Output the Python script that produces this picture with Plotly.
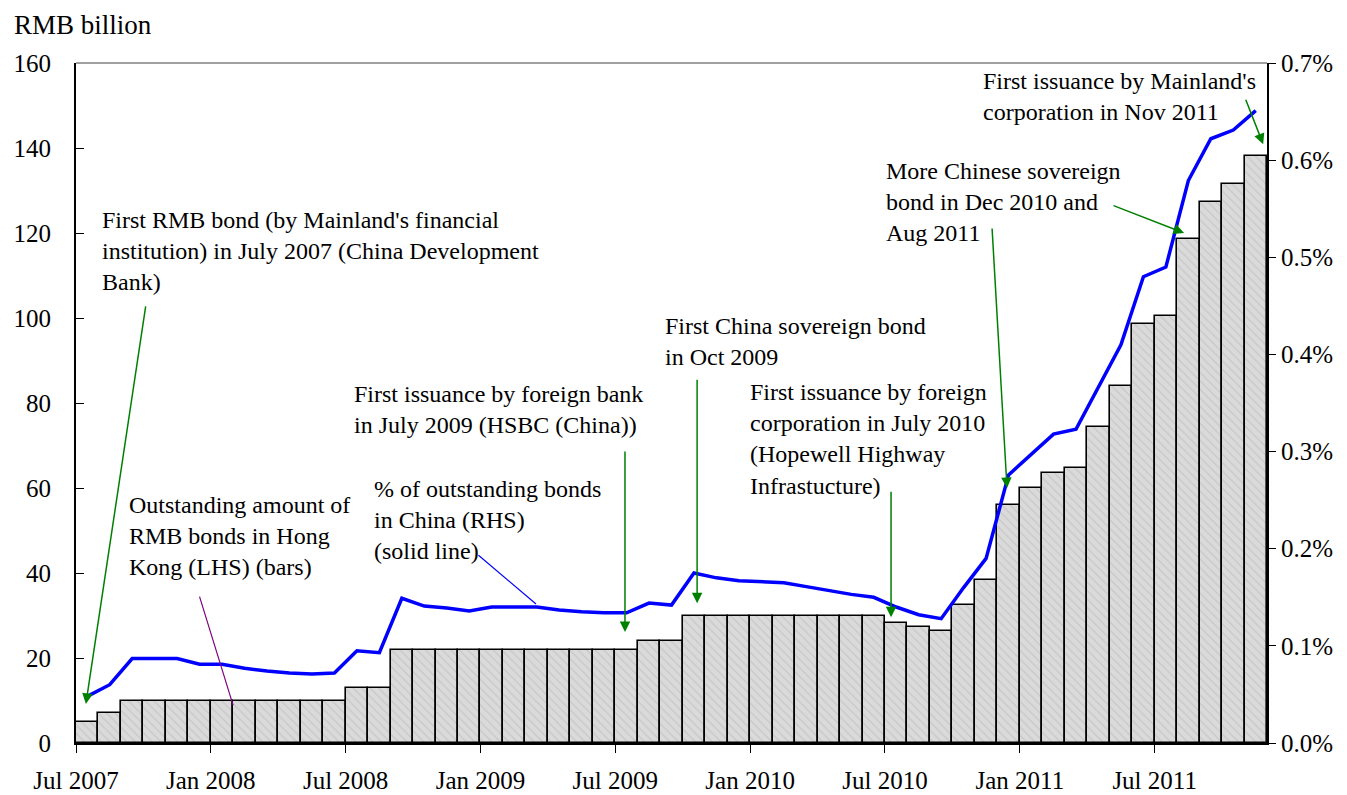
import plotly.graph_objects as go
import pandas as pd

# ---- data ----
months = [d.strftime("%b %Y") for d in pd.date_range("2007-07-01", "2011-11-01", freq="MS")]

outstanding_rmb_bn = [
    5, 7, 10, 10, 10, 10, 10, 10, 10, 10, 10, 10,          # Jul07-Jun08
    13, 13, 22, 22, 22, 22, 22, 22, 22, 22, 22, 22,        # Jul08-Jun09
    22, 24, 24, 30, 30, 30, 30, 30, 30, 30, 30, 30,        # Jul09-Jun10
    28.2, 27.2, 26.4, 32.4, 38.3, 55.9, 60.0, 63.6, 64.8, 74.4, 84.0, 98.7,  # Jul10-Jun11
    100.5, 118.5, 127.2, 131.5, 138.1                      # Jul11-Nov11
]

pct_of_china_bonds = [
    0.048, 0.060, 0.087, 0.087, 0.087, 0.081, 0.081, 0.077, 0.074, 0.072, 0.071, 0.072,
    0.095, 0.093, 0.149, 0.141, 0.139, 0.136, 0.140, 0.140, 0.140, 0.137, 0.135, 0.134,
    0.134, 0.144, 0.142, 0.175, 0.170, 0.167, 0.166, 0.165, 0.161, 0.157, 0.153, 0.150,
    0.140, 0.132, 0.128, 0.160, 0.190, 0.276, 0.297, 0.318, 0.323, 0.367, 0.410, 0.480,
    0.490, 0.579, 0.622, 0.631, 0.651
]

tick_labels = ["Jul 2007", "Jan 2008", "Jul 2008", "Jan 2009", "Jul 2009",
               "Jan 2010", "Jul 2010", "Jan 2011", "Jul 2011"]

left_ticks = [0, 20, 40, 60, 80, 100, 120, 140, 160]
right_ticks = [0.0, 0.1, 0.2, 0.3, 0.4, 0.5, 0.6, 0.7]
right_tick_text = [f"{v:.1f}%" for v in right_ticks]

FONT = '"Liberation Serif", "Times New Roman", "DejaVu Serif", serif'
GREEN = "#008000"

x_centers = [i + 0.5 for i in range(len(months))]
tick_vals = [months.index(t) for t in tick_labels]

fig = go.Figure()
fig.add_trace(go.Bar(
    x=x_centers, y=outstanding_rmb_bn, width=1.0,
    marker=dict(color="#d9d9d9",
                line=dict(color="black", width=1.6),
                pattern=dict(shape="\\", fgcolor="#b4b4b4", bgcolor="#dadada",
                             size=6, solidity=0.2)),
    showlegend=False, yaxis="y"))
fig.add_trace(go.Scatter(
    x=x_centers, y=pct_of_china_bonds, mode="lines",
    line=dict(color="#0000ff", width=3.5),
    showlegend=False, yaxis="y2"))

# page body has an 8px margin: figure drawn from (8,8)
OFF = 8
W, H = 1347 - OFF, 795 - OFF
# plot area in page pixels
L, R, T, B = 76, 1267, 63, 743
def px2paper(px, py):
    return (px - L) / (R - L), (B - py) / (B - T)

annotations = []

def text_ann(text, left_px, center_py, size=24):
    x, y = px2paper(left_px, center_py)
    annotations.append(dict(text=text, xref="paper", yref="paper", x=x, y=y,
                            xanchor="left", yanchor="middle", align="left",
                            showarrow=False, font=dict(family=FONT, size=size, color="black")))

def arrow(tip_month, tip_val, ax, ay, color=GREEN, head=2, width=1.5):
    annotations.append(dict(text="", xref="x", yref="y", x=tip_month, y=tip_val,
                            ax=ax, ay=ay, axref="pixel", ayref="pixel",
                            showarrow=True, arrowhead=head, arrowsize=1.4,
                            arrowwidth=width, arrowcolor=color, standoff=0))

text_ann("First RMB bond (by Mainland's financial<br>institution) in July 2007 (China Development<br>Bank)", 100, 251)
text_ann("Outstanding amount of<br>RMB bonds in Hong<br>Kong (LHS) (bars)", 127, 536)
text_ann("% of outstanding bonds<br>in China (RHS)<br>(solid line)", 372, 520)
text_ann("First issuance by foreign bank<br>in July 2009 (HSBC (China))", 352, 409)
text_ann("First China sovereign bond<br>in Oct 2009", 663, 341)
text_ann("First issuance by foreign<br>corporation in July 2010<br>(Hopewell Highway<br>Infrastucture)", 748, 439)
text_ann("More Chinese sovereign<br>bond in Dec 2010 and<br>Aug 2011", 884, 202)
text_ann("First issuance by Mainland's<br>corporation in Nov 2011", 981, 96)

# axis title
text_ann("RMB billion", 12, 25, size=27)

# arrows / leader lines (tip in data coords, tail offsets in px)
arrow(0.44, 9.2, 60, -399)
arrow(6.99, 8.9, -34, -110, color="#800080", head=0, width=1.2)
arrow(20.47, 32.7, -59, -50, color="#0000ff", head=0, width=1.2)
arrow(24.43, 26.1, 0, -182)
arrow(27.64, 32.9, 0, -225)
arrow(36.27, 29.6, 0, -127)
arrow(41.43, 60.0, -15, -261)
arrow(49.31, 120.0, -72, -28)
arrow(52.83, 140.9, -18, -46)

fig.update_layout(
    width=W, height=H,
    margin=dict(l=L - OFF, r=W - (R - OFF), t=T - OFF, b=H - (B - OFF),
                autoexpand=False, pad=0),
    paper_bgcolor="white", plot_bgcolor="white",
    bargap=0, barmode="overlay",
    font=dict(family=FONT, size=24, color="black"),
    annotations=annotations,
    xaxis=dict(range=[0, len(months)], tickmode="array", tickvals=tick_vals,
               ticktext=tick_labels, showgrid=False, zeroline=False,
               showline=True, linecolor="black", linewidth=2,
               ticks="outside", ticklen=8, tickwidth=1, tickcolor="black",
               ticklabelstandoff=6, tickfont=dict(family=FONT, size=25)),
    yaxis=dict(range=[0, 160], tickmode="array", tickvals=left_ticks,
               showgrid=False, zeroline=False, showline=True, linecolor="black",
               linewidth=2, ticks="inside", ticklen=8, tickcolor="black",
               ticklabelstandoff=18, tickfont=dict(family=FONT, size=25)),
    yaxis2=dict(range=[0, 0.7], overlaying="y", side="right", tickmode="array",
                tickvals=right_ticks, ticktext=right_tick_text,
                showgrid=False, zeroline=False, showline=True, linecolor="black",
                linewidth=2, ticks="outside", ticklen=7, tickcolor="black",
                ticklabelstandoff=0, tickfont=dict(family=FONT, size=25)),
    shapes=[dict(type="line", xref="paper", yref="paper", x0=0, x1=1, y0=1, y1=1,
                 line=dict(color="#a0a0a0", width=2), layer="above")],
)

fig.write_html("out.html")
